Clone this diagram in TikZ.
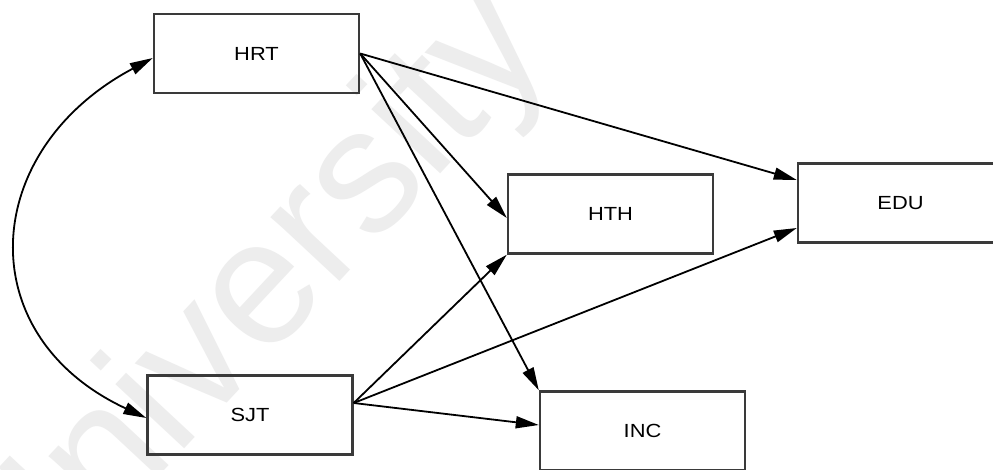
\documentclass[tikz,border=0pt]{standalone}
\usepackage{fontspec}
\setmainfont{Liberation Sans}[FakeStretch=1.15]
\newfontfamily\wmfont{Liberation Sans}
\usetikzlibrary{arrows.meta}
\definecolor{boxline}{HTML}{3A3A3A}
\definecolor{wmgray}{HTML}{EDEDED}
\begin{document}
\begin{tikzpicture}[x=1pt,y=1pt,
  var/.style={draw=boxline, line width=2.4pt, fill=none,
    minimum width=205pt, minimum height=79pt, inner sep=0pt,
    font=\fontsize{19}{22}\selectfont},
  path/.style={draw=black, line width=1.8pt,
    -{Triangle[length=23pt,width=12pt]}},
  cov/.style={draw=black, line width=1.8pt,
    {Triangle[length=23pt,width=12pt]}-{Triangle[length=23pt,width=12pt]}}]
  \useasboundingbox (0,0) rectangle (993,-470);
  \fill[white] (0,0) rectangle (993,-470);

  % faint background lettering
  \node[wmgray, rotate=47, anchor=base, inner sep=0pt,
        font=\wmfont\fontsize{178}{178}\selectfont] (wm) at (288,-338) {University};

  % observed variables
  \node[var] (hrt) at (256.5,-53.5) {HRT};
  \node[var] (sjt) at (250,-415) {SJT};
  \node[var] (hth) at (610.5,-214) {HTH};
  \node[var] (edu) at (900.5,-203) {EDU};
  \node[var] (inc) at (642.5,-431) {INC};

  % covariance between the exogenous variables
  \draw[cov] ([yshift=-4.5pt]hrt.west) .. controls +(208:196pt) and +(155:196pt) .. ([yshift=-3pt]sjt.west);

  % paths from HRT
  \draw[path] (hrt.east) -- ([yshift=23pt]edu.west);
  \draw[path] (hrt.east) -- ([yshift=-4pt]hth.west);
  \draw[path] (hrt.east) -- (inc.north west);

  % paths from SJT
  \draw[path] ([yshift=12pt]sjt.east) -- (hth.south west);
  \draw[path] ([yshift=12pt]sjt.east) -- ([yshift=-25pt]edu.west);
  \draw[path] ([yshift=12pt]sjt.east) -- ([yshift=6pt]inc.west);
\end{tikzpicture}
\end{document}
